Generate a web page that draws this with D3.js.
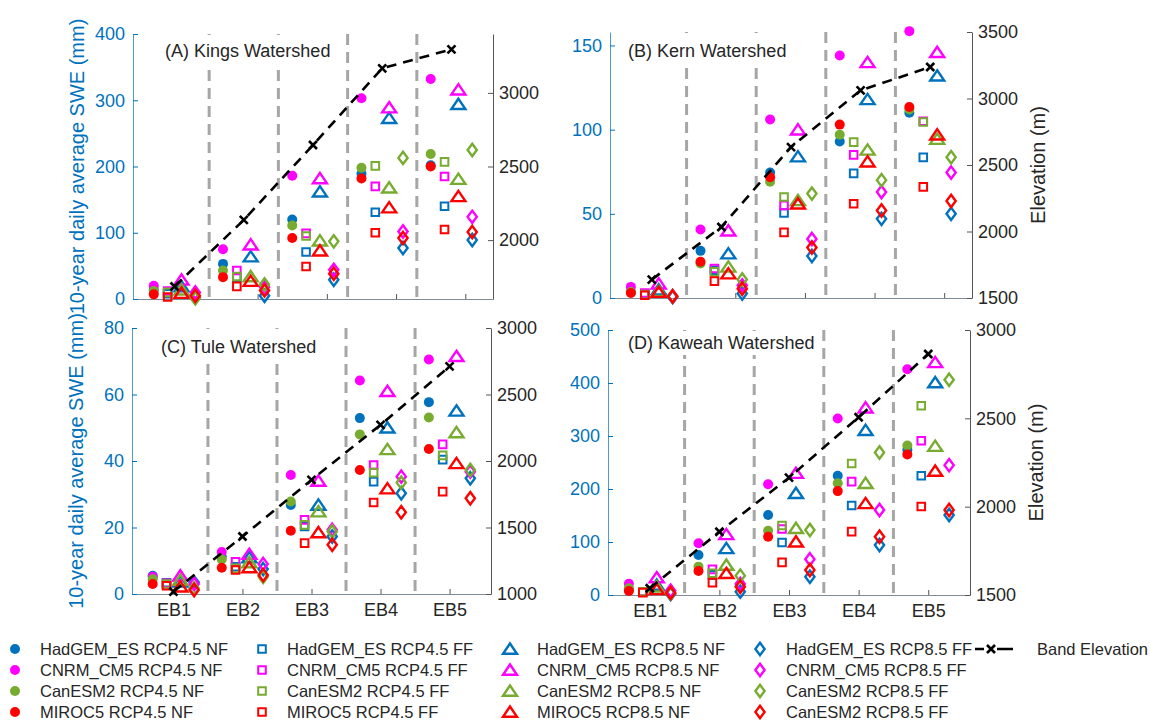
<!DOCTYPE html>
<html><head><meta charset="utf-8">
<script src="https://cdn.jsdelivr.net/npm/d3@7"></script>
<style>
body{margin:0;background:#fff;}
svg text{font-family:"Liberation Sans",Arial,Helvetica,sans-serif;}
</style>
</head><body>
<svg id="chart" width="1150" height="720"></svg>
<script>
// ---------------- DATA ----------------
const categories = ["EB1", "EB2", "EB3", "EB4", "EB5"];
const models = ["HadGEM_ES", "CNRM_CM5", "CanESM2", "MIROC5"];
const modelColors = ["#0072BD", "#FF00FF", "#77AC30", "#FF0000"];
const scenarios = ["RCP4.5 NF", "RCP4.5 FF", "RCP8.5 NF", "RCP8.5 FF"];
const scenarioShapes = ["circle", "square", "triangle", "diamond"];
const dividers = [1.5, 2.5, 3.5, 4.5];
const legendLabels = [
  "HadGEM_ES RCP4.5 NF", "CNRM_CM5 RCP4.5 NF", "CanESM2 RCP4.5 NF", "MIROC5 RCP4.5 NF",
  "HadGEM_ES RCP4.5 FF", "CNRM_CM5 RCP4.5 FF", "CanESM2 RCP4.5 FF", "MIROC5 RCP4.5 FF",
  "HadGEM_ES RCP8.5 NF", "CNRM_CM5 RCP8.5 NF", "CanESM2 RCP8.5 NF", "MIROC5 RCP8.5 NF",
  "HadGEM_ES RCP8.5 FF", "CNRM_CM5 RCP8.5 FF", "CanESM2 RCP8.5 FF", "CanESM2 RCP8.5 FF"
];
const elevationLabel = "Band Elevation";
const sweLabel = "10-year daily average SWE (mm)";
const elevAxisLabel = "Elevation (m)";

// (A) Kings — rows: HadGEM_ES, CNRM_CM5, CanESM2, MIROC5
const kings45NF = [[14, 53, 120, 189, 202], [20, 75, 186, 303, 332], [12, 43, 111, 198, 219], [7, 33, 92, 182, 200]];
const kings45FF = [[8, 32, 71, 131, 140], [12, 43, 99, 170, 185], [10, 34, 95, 201, 207], [3, 19, 49, 100, 105]];
const kings85NF = [[19, 64, 162, 273, 294], [29, 82, 182, 289, 316], [14, 34, 88, 168, 181], [9, 27, 73, 138, 155]];
const kings85FF = [[3, 5, 29, 77, 89], [10, 18, 44, 102, 124], [1, 22, 87, 213, 225], [5, 13, 38, 92, 101]];
const kingsElev = [1685, 2137, 2646, 3167, 3296];

// (B) Kern
const kern45NF = [[3.5, 28, 74.5, 93, 110], [6.6, 40.7, 106, 144, 158.5], [3.5, 20.5, 69, 97, 112], [3, 21.5, 71.7, 103, 113.4]];
const kern45FF = [[2.5, 16.5, 50.5, 74, 83.5], [3, 17.5, 55, 85, 105], [2, 15.5, 60, 92.6, 104.5], [1.6, 10, 39, 56, 66]];
const kern85NF = [[5, 26.4, 84, 118, 132], [8.5, 40, 100, 140, 146], [4, 18.5, 58, 88, 94.4], [3.5, 14.5, 56, 81, 97]];
const kern85FF = [[0.5, 2.6, 25, 47, 50], [1, 7.5, 35, 63, 74.5], [1, 11, 62, 70, 83.6], [1, 5.5, 30, 52, 57.6]];
const kernElev = [1638, 2034, 2635, 3061, 3237];

// (C) Tule
const tule45NF = [[5.5, 11.2, 26.8, 52.9, 57.7], [5.2, 12.6, 35.8, 64.2, 70.5], [4.4, 10.4, 27.8, 48, 53.1], [3, 7.9, 19, 37.3, 43.6]];
const tule45FF = [[3.4, 8.2, 20.3, 33.8, 40.4], [3.2, 9.7, 22.3, 38.8, 45], [3, 7.7, 20.8, 36.5, 41.7], [2.5, 7.2, 15.3, 27.5, 30.8]];
const tule85NF = [[3.7, 11, 26.8, 50, 55.1], [5.5, 12, 34, 61, 71.5], [4.2, 9.5, 24.8, 43.5, 48.6], [2.2, 8, 18.5, 31.7, 39.3]];
const tule85FF = [[3.5, 7.5, 17.3, 30.3, 34.8], [3, 9, 19.3, 35.3, 36.8], [1.7, 5.2, 18.8, 33.5, 37.3], [1.2, 5.7, 14.8, 24.6, 28.8]];
const tuleElev = [1018, 1432, 1858, 2272, 2711];

// (D) Kaweah
const kaweah45NF = [[10, 75.5, 151, 225, 274], [21, 97.5, 209, 333, 426], [12.6, 53.5, 121, 211, 282], [7.5, 45.3, 110, 196, 265]];
const kaweah45FF = [[6, 38, 99, 169, 225], [6, 48.4, 124.5, 214, 291], [6, 41, 131, 248, 357], [4.4, 23.3, 61.6, 119.5, 167]];
const kaweah85NF = [[19, 88, 192, 311, 401], [33, 114.5, 230, 353.5, 439], [15.7, 56.6, 126, 211, 281], [10.7, 41, 100.6, 173, 234]];
const kaweah85FF = [[2, 6.3, 34.6, 94.3, 151], [8, 20.8, 67.3, 160.4, 245], [3, 36.5, 122.6, 269, 406], [4, 15.7, 47.2, 110, 160.4]];
const kaweahElev = [1538, 1858, 2164, 2506, 2864];

// axis ticks
const kingsSweTicks = [0, 100, 200, 300, 400];
const kingsElevTicks = [2000, 2500, 3000];
const kernSweTicks = [0, 50, 100, 150];
const kernElevTicks = [1500, 2000, 2500, 3000, 3500];
const tuleSweTicks = [0, 20, 40, 60, 80];
const tuleElevTicks = [1000, 1500, 2000, 2500, 3000];
const kaweahSweTicks = [0, 100, 200, 300, 400, 500];
const kaweahElevTicks = [1500, 2000, 2500, 3000];

// ---------------- LAYOUT ----------------
const panels = [
  {title: "(A) Kings Watershed", swe: [kings45NF, kings45FF, kings85NF, kings85FF], elev: kingsElev,
   sweDomain: [0, 400], sweTicks: kingsSweTicks, elevDomain: [1600, 3400], elevTicks: kingsElevTicks,
   left: 133, right: 493, top: 34, bottom: 299, titleX: 165, titleY: 57, xLabels: false, tickShift: 0.2,
   sweLabel: true, elevLabel: false},
  {title: "(B) Kern Watershed", swe: [kern45NF, kern45FF, kern85NF, kern85FF], elev: kernElev,
   sweDomain: [0, 158], sweTicks: kernSweTicks, elevDomain: [1500, 3500], elevTicks: kernElevTicks,
   left: 610, right: 972, top: 32, bottom: 298, titleX: 628, titleY: 57, xLabels: false, tickShift: 0.2,
   sweLabel: false, elevLabel: true},
  {title: "(C) Tule Watershed", swe: [tule45NF, tule45FF, tule85NF, tule85FF], elev: tuleElev,
   sweDomain: [0, 80], sweTicks: tuleSweTicks, elevDomain: [1000, 3000], elevTicks: tuleElevTicks,
   left: 132, right: 491, top: 328, bottom: 594, titleX: 161, titleY: 353, xLabels: true, tickShift: 0,
   sweLabel: true, elevLabel: false},
  {title: "(D) Kaweah Watershed", swe: [kaweah45NF, kaweah45FF, kaweah85NF, kaweah85FF], elev: kaweahElev,
   sweDomain: [0, 500], sweTicks: kaweahSweTicks, elevDomain: [1500, 3000], elevTicks: kaweahElevTicks,
   left: 608, right: 970, top: 330, bottom: 595, titleX: 628, titleY: 349, xLabels: true, tickShift: 0,
   sweLabel: false, elevLabel: true}
];

const BLUE = "#0072BD", DARK = "#262626";
const scenarioOffsets = [-0.3, -0.1, 0.1, 0.3];
const numFmt = d3.format("d");

function markerPath(shape) {
  if (shape === "square") return "M-3.8,-3.8H3.8V3.8H-3.8Z";
  if (shape === "triangle") return "M0,-5.5L7,4.8L-7,4.8Z";
  if (shape === "diamond") return "M0,-6.2L4.6,0L0,6.2L-4.6,0Z";
  return null;
}
function drawMarker(sel, shape, color) {
  if (shape === "circle") {
    sel.append("circle").attr("r", 5).attr("fill", color);
  } else {
    sel.append("path").attr("d", markerPath(shape)).attr("fill", "none")
      .attr("stroke", color).attr("stroke-width", shape === "square" ? 2 : 2.4)
      .attr("stroke-linejoin", "miter");
  }
}
function drawX(sel) {
  sel.append("path").attr("d", "M-4,-4L4,4M-4,4L4,-4").attr("stroke", "#000").attr("stroke-width", 2.6);
}

const svg = d3.select("#chart");

panels.forEach(p => {
  const x = d3.scaleLinear().domain([0.4, 5.6]).range([p.left, p.right]);
  const yL = d3.scaleLinear().domain(p.sweDomain).range([p.bottom, p.top]);
  const yR = d3.scaleLinear().domain(p.elevDomain).range([p.bottom, p.top]);
  const g = svg.append("g");

  // dividers
  g.selectAll("line.div").data(dividers).join("line").attr("class", "div")
    .attr("x1", d => x(d)).attr("x2", d => x(d)).attr("y1", p.top).attr("y2", p.bottom + 2)
    .attr("stroke", "#a6a6a6").attr("stroke-width", 3).attr("stroke-dasharray", "11,7");

  // title with white background
  const tg = g.append("g");
  const rect = tg.append("rect").attr("fill", "#fff");
  const t = tg.append("text").attr("x", p.titleX).attr("y", p.titleY)
    .attr("font-size", 18).attr("fill", DARK).text(p.title);
  const bb = t.node().getBBox();
  rect.attr("x", bb.x - 2).attr("y", p.top + 1).attr("width", bb.width + 4)
    .attr("height", bb.y + bb.height + 2 - p.top - 1);

  // axes
  const xa = g.append("g").attr("transform", `translate(0,${p.bottom})`)
    .call(d3.axisBottom(x).tickValues(categories.map((c, i) => i + 1 + p.tickShift))
      .tickSizeInner(-5).tickSizeOuter(0).tickPadding(9)
      .tickFormat((d, i) => p.xLabels ? categories[i] : ""));
  xa.select(".domain").attr("stroke", "#7f8c99").attr("stroke-width", 1);
  xa.selectAll(".tick line").attr("stroke", "#555");
  xa.selectAll("text").attr("font-size", 18).attr("fill", DARK).attr("font-family", null);

  const la = g.append("g").attr("transform", `translate(${p.left},0)`)
    .call(d3.axisLeft(yL).tickValues(p.sweTicks).tickFormat(numFmt)
      .tickSizeInner(-5).tickSizeOuter(0).tickPadding(8));
  la.select(".domain").attr("stroke", BLUE).attr("stroke-opacity", 0.7);
  la.selectAll(".tick line").attr("stroke", BLUE);
  la.selectAll("text").attr("font-size", 18).attr("fill", BLUE).attr("font-family", null);

  const ra = g.append("g").attr("transform", `translate(${p.right},0)`)
    .call(d3.axisRight(yR).tickValues(p.elevTicks).tickFormat(numFmt)
      .tickSizeInner(-5).tickSizeOuter(0).tickPadding(6));
  ra.select(".domain").attr("stroke", "#555");
  ra.selectAll(".tick line").attr("stroke", "#555");
  ra.selectAll("text").attr("font-size", 18).attr("fill", DARK).attr("font-family", null);

  // markers: scenario-major, then model
  p.swe.forEach((scen, si) => {
    scen.forEach((vals, mi) => {
      vals.forEach((v, ci) => {
        const mg = g.append("g").attr("transform", `translate(${x(ci + 1 + scenarioOffsets[si])},${yL(v)})`);
        drawMarker(mg, scenarioShapes[si], modelColors[mi]);
      });
    });
  });

  // elevation line (right axis, on top)
  const line = d3.line().x((d, i) => x(i + 1)).y(d => yR(d));
  g.append("path").datum(p.elev).attr("d", line).attr("fill", "none")
    .attr("stroke", "#000").attr("stroke-width", 2.6).attr("stroke-dasharray", "10,7");
  p.elev.forEach((v, i) => {
    const mg = g.append("g").attr("transform", `translate(${x(i + 1)},${yR(v)})`);
    drawX(mg);
  });

  // axis labels
  if (p.sweLabel) {
    g.append("text").attr("transform", `translate(${p.left - 49},${(p.top + p.bottom) / 2}) rotate(-90)`)
      .attr("text-anchor", "middle").attr("font-size", 20).attr("fill", BLUE).text(sweLabel);
  }
  if (p.elevLabel) {
    g.append("text").attr("transform", `translate(${p.right + 73},${(p.top + p.bottom) / 2}) rotate(-90)`)
      .attr("text-anchor", "middle").attr("font-size", 20).attr("fill", DARK).text(elevAxisLabel);
  }
});

// ---------------- LEGEND ----------------
const legRows = [649, 670, 691, 712];
const legMarkX = [15, 262, 510, 760];
const legTextX = [40, 287, 537, 786];
const leg = svg.append("g");
legendLabels.forEach((lab, k) => {
  const col = Math.floor(k / 4), row = k % 4;
  const mg = leg.append("g").attr("transform", `translate(${legMarkX[col]},${legRows[row]})`);
  drawMarker(mg, scenarioShapes[col], modelColors[row]);
  leg.append("text").attr("x", legTextX[col]).attr("y", legRows[row]).attr("dy", "0.35em")
    .attr("font-size", 16.5).attr("fill", DARK).text(lab);
});
leg.append("line").attr("x1", 975).attr("x2", 1013).attr("y1", legRows[0]).attr("y2", legRows[0])
  .attr("stroke", "#000").attr("stroke-width", 2.6).attr("stroke-dasharray", "9,13,16");
drawX(leg.append("g").attr("transform", `translate(991,${legRows[0]})`));
leg.append("text").attr("x", 1037).attr("y", legRows[0]).attr("dy", "0.35em")
  .attr("font-size", 16.5).attr("fill", DARK).text(elevationLabel);
</script>
</body></html>
